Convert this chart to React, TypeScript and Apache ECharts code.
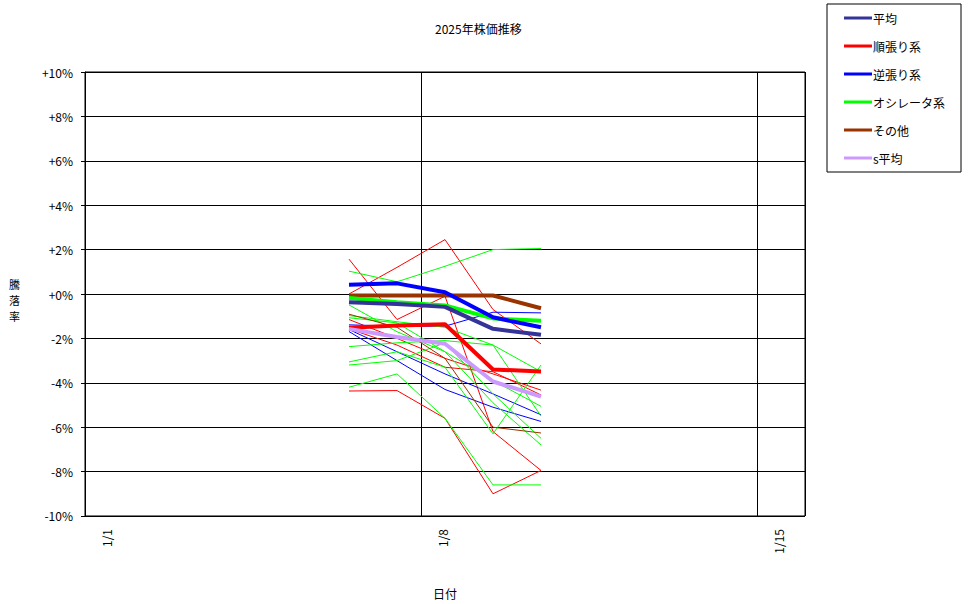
import { useRef, useEffect } from 'react'
import * as echarts from 'echarts'

// x positions in days from 1/1 (points sit half a day after each date line)
const dayValues = [5.5, 6.5, 7.5, 8.5, 9.5]
const xTickLabels: { [day: number]: string } = { 0: '1/1', 7: '1/8', 14: '1/15' }
const yAxisTitle = ['騰', '落', '率']

// thick summary lines (legend entries)
const avgAll = [-0.37, -0.45, -0.58, -1.57, -1.84]
const avgTrend = [-1.52, -1.42, -1.36, -3.4, -3.49]
const avgContrarian = [0.42, 0.48, 0.08, -1.05, -1.5]
const avgOscillator = [-0.18, -0.37, -0.52, -1.1, -1.21]
const avgOther = [-0.07, -0.07, -0.07, -0.07, -0.64]
const avgS = [-1.57, -1.94, -2.24, -3.94, -4.62]

// thin individual lines
const trendLines = [
  [1.57, -1.15, -0.1, -6.2, -7.95],
  [0.0, 1.2, 2.45, -0.7, -2.25],
  [-4.37, -4.35, -5.6, -9.0, -7.95],
  [-1.15, -2.0, -2.9, -3.6, -4.33],
  [-1.57, -2.3, -3.3, -3.5, -4.55],
]
const contrarianLines = [
  [-1.39, -1.45, -1.45, -0.82, -0.85],
  [-1.6, -2.6, -3.6, -4.5, -5.44],
  [-1.69, -3.0, -4.3, -5.1, -5.74],
]
const oscillatorLines = [
  [1.03, 0.55, 1.25, 2.0, 2.05],
  [-0.49, -1.7, -2.6, -4.9, -6.8],
  [-0.97, -1.25, -1.5, -2.3, -3.5],
  [-1.07, -1.3, -2.6, -3.9, -5.06],
  [-2.37, -2.2, -2.1, -2.3, -5.5],
  [-3.06, -2.6, -3.3, -6.3, -3.2],
  [-3.2, -3.0, -2.2, -4.5, -6.5],
  [-4.2, -3.6, -5.6, -8.6, -8.6],
]
const otherLines = [
  [-0.91, -1.5, -2.9, -6.0, -6.26],
]

const FONT = '"Noto Sans CJK JP", sans-serif'

const toPoints = (vals: number[]) => vals.map((v, i) => [dayValues[i], v])

export default function App() {
  const chartRef = useRef<HTMLDivElement>(null)

  useEffect(() => {
    if (!chartRef.current) return
    const chart = echarts.init(chartRef.current, undefined, { renderer: 'svg' })

    const thin = (name: string, vals: number[], color: string) => ({
      name,
      type: 'line',
      data: toPoints(vals),
      showSymbol: false,
      symbol: 'none',
      lineStyle: { width: 1, color },
      itemStyle: { color },
      silent: true,
    })
    const thick = (name: string, vals: number[], color: string) => ({
      name,
      type: 'line',
      data: toPoints(vals),
      symbol: 'none',
      lineStyle: { width: 4, color },
      itemStyle: { color },
    })

    const series: any[] = [
      ...trendLines.map((v, i) => thin('t' + i, v, '#ff0000')),
      ...contrarianLines.map((v, i) => thin('c' + i, v, '#0000ff')),
      ...oscillatorLines.map((v, i) => thin('o' + i, v, '#00ff00')),
      ...otherLines.map((v, i) => thin('x' + i, v, '#993300')),
      thick('その他', avgOther, '#993300'),
      thick('オシレータ系', avgOscillator, '#00ff00'),
      thick('逆張り系', avgContrarian, '#0000ff'),
      thick('平均', avgAll, '#333399'),
      thick('順張り系', avgTrend, '#ff0000'),
      thick('s平均', avgS, '#cc99ff'),
    ]

    chart.setOption({
      animation: false,
      textStyle: { fontFamily: FONT, color: '#000' },
      title: {
        text: '2025年株価推移',
        left: 430,
        top: 17,
        textStyle: { fontSize: 12, fontWeight: 'normal', color: '#000', fontFamily: FONT },
      },
      legend: {
        data: ['平均', '順張り系', '逆張り系', 'オシレータ系', 'その他', 's平均'],
        orient: 'vertical',
        left: 827,
        top: 4,
        padding: [7, 16, 7, 17],
        icon: 'rect',
        itemGap: 14,
        itemWidth: 28,
        itemHeight: 3,
        borderColor: '#000',
        borderWidth: 1,
        backgroundColor: '#fff',
        textStyle: { fontSize: 12, color: '#000', fontFamily: FONT, lineHeight: 14, padding: [0, 0, 0, -4] },
      },
      grid: {
        left: 85,
        top: 72,
        right: 165,
        bottom: 85,
        show: true,
        borderColor: '#000',
        borderWidth: 1,
        containLabel: false,
      },
      graphic: yAxisTitle.map((ch, i) => ({
        type: 'text',
        left: 9,
        top: 278 + i * 16,
        style: { text: ch, fontSize: 11, fill: '#000', fontFamily: FONT },
      })),
      xAxis: {
        type: 'value',
        min: 0,
        max: 15,
        interval: 7,
        name: '日付',
        nameLocation: 'middle',
        nameGap: 71,
        nameTextStyle: { fontSize: 12, color: '#000', fontFamily: FONT },
        axisLine: { show: true, lineStyle: { color: '#000' } },
        axisTick: { show: false },
        splitLine: { show: true, lineStyle: { color: '#000', width: 1 } },
        axisLabel: {
          rotate: 90,
          margin: 13,
          verticalAlign: 'top',
          padding: [15, 0, 0, 0],
          fontSize: 12,
          color: '#000',
          fontFamily: FONT,
          showMaxLabel: false,
          formatter: (v: number) => xTickLabels[v] ?? '',
        },
      },
      yAxis: {
        type: 'value',
        min: -10,
        max: 10,
        interval: 2,
        axisLine: { show: true, lineStyle: { color: '#000' } },
        axisTick: { show: true, length: 4, lineStyle: { color: '#000' } },
        splitLine: { show: true, lineStyle: { color: '#000', width: 1 } },
        axisLabel: {
          margin: 12,
          fontSize: 12,
          color: '#000',
          fontFamily: FONT,
          formatter: (v: number) => (v >= 0 ? `+${v}%` : `${v}%`),
        },
      },
      series,
    })

    return () => {
      chart.dispose()
    }
  }, [])

  return (
    <div
      ref={chartRef}
      style={{ position: 'fixed', left: 0, top: 0, width: 970, height: 604, background: '#fff' }}
    />
  )
}
